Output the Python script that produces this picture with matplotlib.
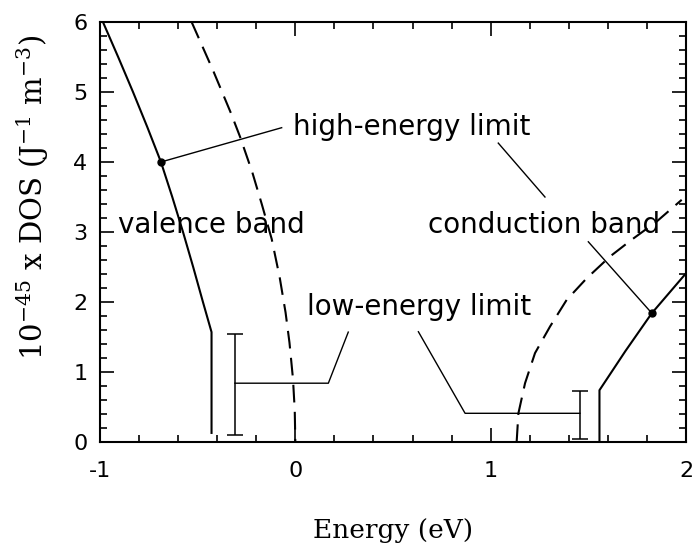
import matplotlib
matplotlib.use("Agg")
import matplotlib.pyplot as plt
from matplotlib.ticker import MultipleLocator

plt.rcParams['axes.unicode_minus'] = False
plt.rcParams['mathtext.default'] = 'regular'

# valence band DOS (solid) and its high-energy limit (dashed)
val_E = [-0.985, -0.907, -0.831, -0.758, -0.688, -0.630, -0.575, -0.523, -0.473, -0.429, -0.429]
val_dos = [6.0, 5.5, 5.0, 4.5, 4.0, 3.5, 3.0, 2.5, 2.0, 1.57, 0.13]
val_lim_E = [-0.531, -0.42, -0.33, -0.283, -0.22, -0.172, -0.121, -0.08, -0.05, -0.03, -0.012, -0.003, 0.0]
val_lim_dos = [6.0, 5.3, 4.7, 4.36, 3.85, 3.4, 2.9, 2.35, 1.85, 1.42, 0.9, 0.45, 0.0]

# conduction band DOS (solid) and its high-energy limit (dashed)
con_E = [1.557, 1.557, 1.69, 1.825, 2.0]
con_dos = [0.0, 0.74, 1.30, 1.84, 2.41]
con_lim_E = [1.133, 1.142, 1.176, 1.227, 1.304, 1.389, 1.492, 1.611, 1.722, 1.85, 1.978]
con_lim_dos = [0.0, 0.41, 0.84, 1.27, 1.65, 2.03, 2.34, 2.65, 2.89, 3.15, 3.46]

# low-energy limit bars
bar_E = [-0.309, 1.457]
bar_lo = [0.10, 0.04]
bar_hi = [1.55, 0.73]

# marked points
dot_E = [-0.688, 1.825]
dot_dos = [4.0, 1.84]

# label leader lines
lead_high1_E = [-0.688, -0.070]
lead_high1_dos = [4.0, 4.49]
lead_high2_E = [1.039, 1.278]
lead_high2_dos = [4.27, 3.50]
lead_con_E = [1.500, 1.825]
lead_con_dos = [2.86, 1.84]
lead_low1_E = [-0.309, 0.169, 0.271]
lead_low1_dos = [0.84, 0.84, 1.57]
lead_low2_E = [1.457, 0.869, 0.630]
lead_low2_dos = [0.41, 0.41, 1.575]


def main():
    fig = plt.figure(figsize=(6.94, 5.46), dpi=100)
    ax = fig.add_axes([100 / 694, 1 - 442 / 546, 586 / 694, 420 / 546])

    dash = (0, (8.5, 4.5))
    ax.plot(val_E, val_dos, color='k', lw=1.5)
    ax.plot(val_lim_E, val_lim_dos, color='k', lw=1.5, linestyle=dash)
    ax.plot(con_E, con_dos, color='k', lw=1.5)
    ax.plot(con_lim_E, con_lim_dos, color='k', lw=1.5, linestyle=dash)

    centers = [(lo + hi) / 2 for lo, hi in zip(bar_lo, bar_hi)]
    halves = [(hi - lo) / 2 for lo, hi in zip(bar_lo, bar_hi)]
    ax.errorbar(bar_E, centers, yerr=halves, fmt='none', ecolor='k',
                elinewidth=1.1, capsize=5.5, capthick=1.1)

    for xs, ys in [(lead_high1_E, lead_high1_dos), (lead_high2_E, lead_high2_dos),
                   (lead_con_E, lead_con_dos), (lead_low1_E, lead_low1_dos),
                   (lead_low2_E, lead_low2_dos)]:
        ax.plot(xs, ys, color='k', lw=1.0)

    ax.plot(dot_E, dot_dos, 'o', color='k', ms=5)

    ax.text(-0.012, 4.39, 'high-energy limit', fontsize=20)
    ax.text(-0.908, 2.98, 'valence band', fontsize=20)
    ax.text(0.679, 2.98, 'conduction band', fontsize=20)
    ax.text(0.060, 1.81, 'low-energy limit', fontsize=20)

    ax.set_xlim(-1, 2)
    ax.set_ylim(0, 6)
    ax.xaxis.set_major_locator(MultipleLocator(1))
    ax.xaxis.set_minor_locator(MultipleLocator(0.2))
    ax.yaxis.set_major_locator(MultipleLocator(1))
    ax.yaxis.set_minor_locator(MultipleLocator(0.2))
    ax.tick_params(which='both', direction='in', top=True, right=True, width=1.2)
    ax.tick_params(which='major', length=10, labelsize=16)
    ax.tick_params(which='minor', length=5)
    ax.tick_params(axis='x', pad=14)
    ax.tick_params(axis='y', pad=9)
    for s in ax.spines.values():
        s.set_linewidth(1.5)

    ax.set_xlabel('Energy (eV)', fontsize=19, family='DejaVu Serif', labelpad=26)
    ax.set_ylabel('10$^{-45}$ x DOS (J$^{-1}$ m$^{-3}$)', fontsize=21, family='DejaVu Serif')
    ax.yaxis.set_label_coords(-0.083, 0.583)

    fig.savefig('out.png', dpi=100)


main()
